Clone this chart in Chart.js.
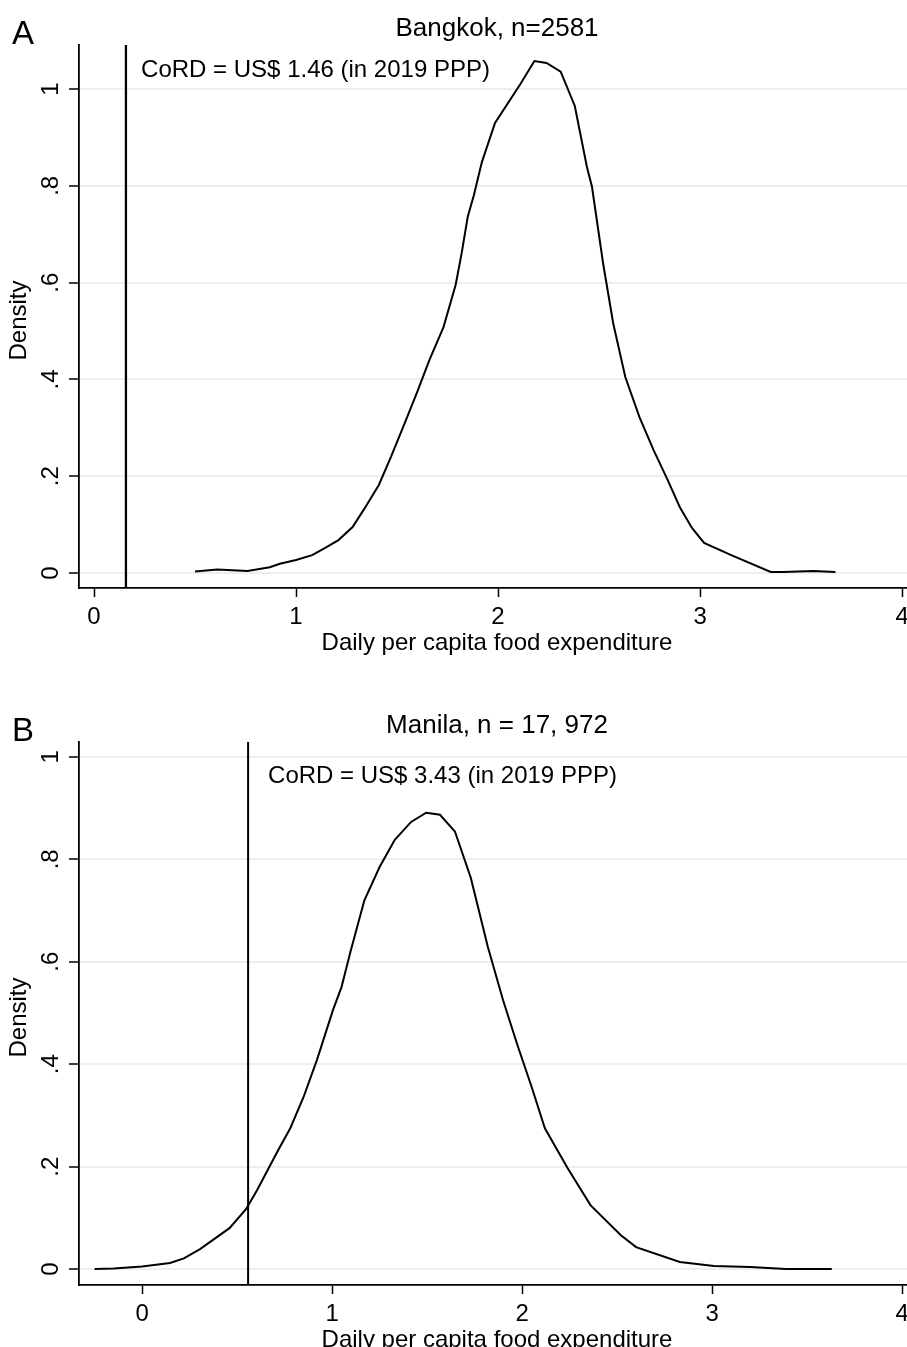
<!DOCTYPE html>
<html><head><meta charset="utf-8">
<script src="https://cdn.jsdelivr.net/npm/chart.js@4/dist/chart.umd.min.js"></script>
<style>
html,body{margin:0;padding:0;background:#fff;overflow:hidden;width:907px;height:1347px;position:relative;}
canvas{position:absolute;left:0;}
</style></head><body>
<canvas id="cA" width="915" height="697" style="top:0px"></canvas>
<canvas id="cB" width="915" height="697" style="top:697px"></canvas>
<script>
// ---- data ----
const bangkokX = [0.50, 0.61, 0.76, 0.87, 0.92, 1.00, 1.08, 1.14, 1.21, 1.28, 1.34, 1.41, 1.47, 1.54, 1.60, 1.66, 1.73, 1.79, 1.82, 1.85, 1.88, 1.92, 1.985, 2.11, 2.18, 2.24, 2.31, 2.38, 2.44, 2.465, 2.52, 2.545, 2.57, 2.63, 2.70, 2.77, 2.84, 2.90, 2.96, 3.02, 3.16, 3.35, 3.41, 3.56, 3.67];
const bangkokY = [0.003, 0.007, 0.004, 0.012, 0.019, 0.027, 0.037, 0.051, 0.068, 0.095, 0.134, 0.182, 0.240, 0.312, 0.374, 0.440, 0.508, 0.595, 0.661, 0.736, 0.780, 0.849, 0.930, 1.010, 1.058, 1.054, 1.036, 0.965, 0.839, 0.798, 0.640, 0.578, 0.516, 0.405, 0.322, 0.254, 0.192, 0.136, 0.093, 0.062, 0.036, 0.002, 0.002, 0.004, 0.002];

const manilaX = [-0.25, -0.15, 0.00, 0.147, 0.22, 0.305, 0.46, 0.547, 0.605, 0.716, 0.78, 0.85, 0.92, 1.005, 1.05, 1.095, 1.17, 1.25, 1.33, 1.416, 1.495, 1.568, 1.647, 1.73, 1.82, 1.90, 1.975, 2.05, 2.12, 2.24, 2.36, 2.52, 2.60, 2.83, 3.01, 3.20, 3.39, 3.63];
const manilaY = [0.000, 0.001, 0.005, 0.012, 0.021, 0.039, 0.080, 0.117, 0.154, 0.232, 0.275, 0.336, 0.408, 0.506, 0.551, 0.617, 0.720, 0.785, 0.838, 0.873, 0.891, 0.887, 0.854, 0.764, 0.629, 0.525, 0.438, 0.356, 0.275, 0.197, 0.125, 0.066, 0.043, 0.014, 0.006, 0.004, 0.000, 0.000];

const cordBangkok = 0.158;
const cordManila = 0.558;

const xTickValues = [0, 1, 2, 3, 4];
const xTickLabels = ['0', '1', '2', '3', '4'];
const yTickValues = [0, 0.2, 0.4, 0.6, 0.8, 1];
const yTickLabels = ['0', '.2', '.4', '.6', '.8', '1'];

const panelLetters = ['A', 'B'];
const panelTitles = ['Bangkok, n=2581', 'Manila, n = 17, 972'];
const cordNotes = ['CoRD = US$ 1.46 (in 2019 PPP)', 'CoRD = US$ 3.43 (in 2019 PPP)'];
const xAxisTitle = 'Daily per capita food expenditure';
const yAxisTitle = 'Density';

// ---- layout / style ----
const FONT = '"Liberation Sans", Arial, Helvetica, sans-serif';
const F = s => s + 'px ' + FONT;
const GRID = '#e8f0f2';

const panels = [
  {id: 'cA', xs: bangkokX, ys: bangkokY, cord: cordBangkok, xMin: -0.0743, xMax: 4.064, yMin: -0.031, yMax: 1.091, noteX: 0.233, noteY: 1.039, lw: 2.3, idx: 0},
  {id: 'cB', xs: manilaX, ys: manilaY, cord: cordManila, xMin: -0.332, xMax: 4.068, yMin: -0.031, yMax: 1.029, noteX: 0.663, noteY: 0.961, lw: 2, idx: 1}
];

const textPlugin = {
  id: 'stataText',
  afterDraw(chart, args, opts) {
    const {ctx, chartArea} = chart;
    const x = chart.scales.x, y = chart.scales.y;
    const cx = (chartArea.left + chartArea.right) / 2;
    ctx.save();
    ctx.fillStyle = '#000';
    ctx.textBaseline = 'alphabetic';
    // panel letter
    ctx.font = F(33); ctx.textAlign = 'left';
    ctx.fillText(opts.letter, 12, 44);
    // title
    ctx.font = F(26); ctx.textAlign = 'center';
    ctx.fillText(opts.title, cx, 36);
    // annotation, placed at data coordinates
    ctx.font = F(24); ctx.textAlign = 'left'; ctx.textBaseline = 'middle';
    ctx.fillText(opts.note, x.getPixelForValue(opts.noteX), y.getPixelForValue(opts.noteY));
    // x title
    ctx.textAlign = 'center'; ctx.textBaseline = 'alphabetic';
    ctx.fillText(xAxisTitle, cx, 650);
    // y tick labels, rotated (Stata style)
    y.ticks.forEach(t => {
      const py = y.getPixelForValue(t.value);
      ctx.save();
      ctx.translate(58, py);
      ctx.rotate(-Math.PI / 2);
      ctx.textAlign = 'center';
      ctx.fillText(t.label, 0, 0);
      ctx.restore();
    });
    // y title
    ctx.save();
    ctx.translate(26, (chartArea.top + chartArea.bottom) / 2 + 4);
    ctx.rotate(-Math.PI / 2);
    ctx.textAlign = 'center';
    ctx.fillText(yAxisTitle, 0, 0);
    ctx.restore();
    ctx.restore();
  }
};

panels.forEach(p => {
  const curve = p.xs.map((v, i) => ({x: v, y: p.ys[i]}));
  const cordLine = [{x: p.cord, y: p.yMin}, {x: p.cord, y: p.yMax}];
  new Chart(document.getElementById(p.id), {
    type: 'scatter',
    data: {
      datasets: [
        {data: curve, showLine: true, borderColor: '#000', borderWidth: 2, pointRadius: 0, tension: 0, fill: false},
        {data: cordLine, showLine: true, borderColor: '#000', borderWidth: p.lw, pointRadius: 0, tension: 0, fill: false}
      ]
    },
    options: {
      responsive: false,
      animation: false,
      devicePixelRatio: 1,
      events: [],
      layout: {padding: {top: 45, left: 0, right: 0, bottom: 0}},
      plugins: {
        legend: {display: false},
        tooltip: {enabled: false},
        title: {display: false},
        stataText: {
          letter: panelLetters[p.idx], title: panelTitles[p.idx], note: cordNotes[p.idx],
          noteX: p.noteX, noteY: p.noteY
        }
      },
      scales: {
        x: {
          type: 'linear', position: 'bottom',
          min: p.xMin, max: p.xMax,
          afterBuildTicks: s => { s.ticks = xTickValues.map(v => ({value: v})); },
          afterFit: s => { s.height = 109; },
          ticks: {
            color: '#000', font: {family: FONT, size: 24, lineHeight: 1.2}, padding: 5.5,
            maxRotation: 0, minRotation: 0, autoSkip: false,
            callback: v => xTickLabels[xTickValues.indexOf(v)]
          },
          grid: {display: true, drawOnChartArea: false, drawTicks: true, tickLength: 9, tickColor: '#000', tickWidth: 1.5},
          border: {display: true, color: '#000', width: 1.8}
        },
        y: {
          type: 'linear', position: 'left',
          min: p.yMin, max: p.yMax,
          afterBuildTicks: s => { s.ticks = yTickValues.map(v => ({value: v})); },
          afterFit: s => { s.width = 79; },
          ticks: {
            display: false,
            callback: v => yTickLabels[yTickValues.indexOf(v)]
          },
          grid: {display: true, drawOnChartArea: true, color: GRID, lineWidth: 2, drawTicks: true, tickLength: 10, tickColor: '#000', tickWidth: 1.5},
          border: {display: true, color: '#000', width: 1.8}
        }
      }
    },
    plugins: [textPlugin]
  });
});
</script>
</body></html>
